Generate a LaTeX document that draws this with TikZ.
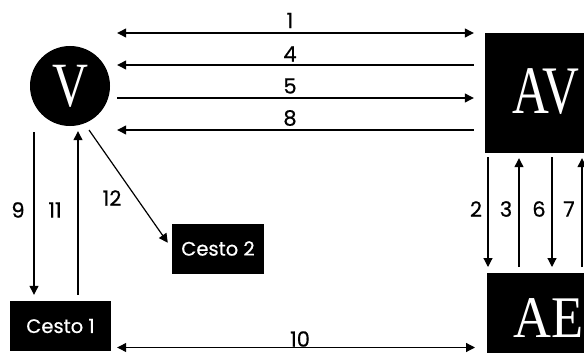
\documentclass[tikz,border=0pt]{standalone}
\usepackage{fontspec}
\usepackage{graphicx}
\newfontfamily\labfont{Poppins}[FakeBold=0.6]
\newfontfamily\bigfont{Liberation Serif}
\usetikzlibrary{arrows.meta,calc}
\begin{document}
\begin{tikzpicture}[x=1pt,y=-1pt,
  arr/.style={line width=1.2pt, -{Triangle[width=9pt,length=9pt]}},
  darr/.style={line width=1.2pt, {Triangle[width=9pt,length=9pt]}-{Triangle[width=9pt,length=9pt]}},
  box/.style={fill=black, text=white, inner sep=0pt},
  lab/.style={font=\labfont\fontsize{21}{21}\selectfont, inner sep=0pt},
  cesto/.style={box, minimum width=101pt, minimum height=50pt, font=\labfont\fontsize{19.5}{19.5}\selectfont}]
\useasboundingbox (0,0) rectangle (584,353);
\clip (0,0) rectangle (584,353);
% main nodes
\node[box, circle, minimum size=80pt] (V) at (70,86)
  {\bigfont\fontsize{63}{63}\selectfont\raisebox{-2pt}{\scalebox{0.79}[1]{V}}};
\node[box, minimum width=122pt, minimum height=120pt] (AV) at (546,93)
  {\bigfont\fontsize{68}{68}\selectfont\raisebox{3pt}{\scalebox{0.75}[1]{AV}}};
\node[box, anchor=north west, minimum width=122pt, minimum height=90pt] (AE) at (487,273)
  {\bigfont\fontsize{59}{59}\selectfont\scalebox{0.89}[1]{AE}};
\node[cesto] (C1) at (60.5,326) {Cesto 1};
\node[cesto, minimum width=92pt] (C2) at (218,248.5) {Cesto 2};
% helper coordinates
\coordinate (hl) at ([xshift=7pt]V.east);
\coordinate (hr) at ([xshift=-11pt]AV.west);
\coordinate (c9) at (34,0);
\coordinate (c11) at (78,0);
\coordinate (s12) at (89,130);
\coordinate (v2) at (488,0);
\coordinate (v3) at (519,0);
\coordinate (v6) at (552,0);
\coordinate (v7) at (582,0);
% horizontal connectors
\draw[darr] (hl |- 0,33) -- (hr |- 0,33);
\draw[arr] (hr |- 0,65) -- (hl |- 0,65);
\draw[arr] (hl |- 0,98) -- (hr |- 0,98);
\draw[arr] (hr |- 0,130) -- (hl |- 0,130);
\draw[darr] (hl |- 0,347.5) -- ([xshift=-12pt]AE.west |- 0,347.5);
% vertical connectors AV-AE
\draw[arr, shorten <=4pt, shorten >=6pt] (v2 |- AV.south) -- (v2 |- AE.north);
\draw[arr, shorten <=6pt, shorten >=5pt] (v3 |- AE.north) -- (v3 |- AV.south);
\draw[arr, shorten <=4pt, shorten >=6pt] (v6 |- AV.south) -- (v6 |- AE.north);
\draw[arr, shorten <=6pt, shorten >=5pt] (v7 |- AE.north) -- (v7 |- AV.south);
% V - Cesto connectors
\draw[arr, shorten <=6pt, shorten >=6pt] (c9 |- V.south) -- (c9 |- C1.north);
\draw[arr, shorten <=6pt, shorten >=5pt] (c11 |- C1.north) -- (c11 |- V.south);
\draw[arr, shorten >=7pt] (s12) -- (C2.west);
% labels
\node[lab] (l1) at (290,20.5) {1};
\node[lab] (l4) at (290,54) {4};
\node[lab] (l5) at (290,86) {5};
\node[lab] (l8) at (290,118) {8};
\node[lab] (l10) at (300,339) {10};
\node[lab] (l9) at (18,210) {9};
\node[lab] (l11) at (55,210) {11};
\node[lab] (l12) at (112,198) {12};
\node[lab] (l2) at (476,209) {2};
\node[lab] (l3) at (506,209) {3};
\node[lab] (l6) at (539,209) {6};
\node[lab] (l7) at (569,209) {7};
\end{tikzpicture}
\end{document}
